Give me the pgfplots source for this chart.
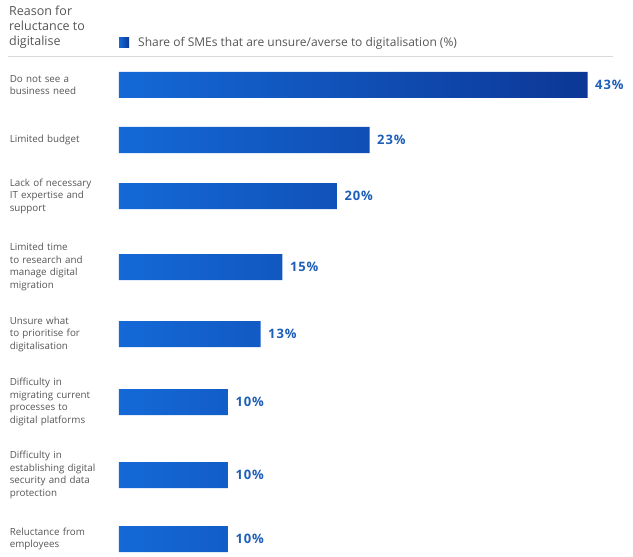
\documentclass[border=0pt]{standalone}
\usepackage{fontspec}
\setmainfont{Open Sans}
\usepackage{pgfplots}
\pgfplotsset{compat=1.18}
\definecolor{barA}{RGB}{20,105,215}
\definecolor{barB}{RGB}{12,55,150}
\definecolor{valblue}{RGB}{30,95,185}
\definecolor{labgray}{RGB}{85,85,85}
\begin{document}
\begin{tikzpicture}
\begin{axis}[
 x=10.9pt, y=1pt, y dir=reverse,
 xmin=0, xmax=43, ymin=0, ymax=556,
 axis line style={draw=none},
 xtick=\empty,
 /pgf/number format/assume math mode=true,
 ytick={85,140,196,267,334,402,475,539},
 yticklabels={{Do not see a\\business need},{Limited budget},{Lack of necessary\\IT expertise and\\support},{Limited time\\to research and\\manage digital\\migration},{Unsure what\\to prioritise for\\digitalisation},{Difficulty in\\migrating current\\processes to\\digital platforms},{Difficulty in\\establishing digital\\security and data\\protection},{Reluctance from\\employees}},
 major tick length=0pt,
 yticklabel style={text width=103pt, align=left, font=\fontsize{9.8}{12.5}\selectfont, text=labgray, inner sep=0pt, xshift=-6pt},
 clip=false,
 xbar, bar width=26,
 point meta=x,
 nodes near coords={\pgfmathprintnumber{\pgfplotspointmeta}\%},
 nodes near coords style={font=\bfseries\fontsize{13}{15}\selectfont\addfontfeature{LetterSpace=7}, text=valblue, anchor=west, xshift=4pt},
 legend style={at={(axis cs:0,43)}, anchor=west, draw=none, fill=none, inner sep=0pt, font=\fontsize{12}{14}\selectfont, text=labgray},
 legend image code/.code={\fill[barA] (0pt,-5pt) rectangle (10pt,5pt); \path (17pt,0pt);},
]
\addplot[draw=none, left color=barA, right color=barB] coordinates {(43,85) (23,140) (20,196) (15,267) (13,334) (10,402) (10,475) (10,539)};
\addlegendentry{Share of SMEs that are unsure/averse to digitalisation (\%)}
\draw[gray!30] (axis cs:-10.2,56) -- (axis cs:45.3,56);
\node[anchor=north west, align=left, inner sep=0pt, font=\fontsize{12.5}{15}\selectfont, text=labgray] at (axis cs:-10.1,6) {Reason for\\reluctance to\\digitalise};
\path (axis cs:-10.917,0) rectangle (axis cs:47.156,556);
\end{axis}
\end{tikzpicture}
\end{document}
